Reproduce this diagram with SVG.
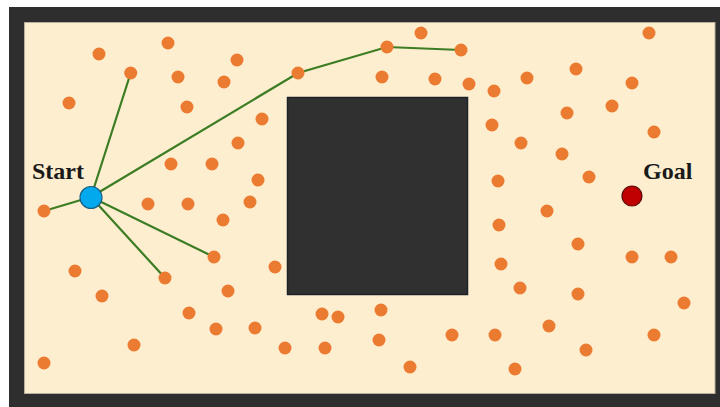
<svg xmlns="http://www.w3.org/2000/svg" width="720" height="407" viewBox="0 0 720 407">
<style>
.dot{fill:#ec7b32}
.edge{stroke:#3c7d24;stroke-width:2.2;fill:none;stroke-linecap:round}
.lbl{font-family:"Liberation Serif","Times New Roman",serif;font-weight:bold;font-size:24px;fill:#1a1a1a}
</style>
<rect x="0" y="0" width="720" height="407" fill="#ffffff"/>
<rect x="9" y="7" width="711" height="400" fill="#2e2e2e"/>
<rect x="24.5" y="22.5" width="690.5" height="371" fill="#fdeecf" stroke="#b8b09a" stroke-width="1"/>
<rect id="obstacle" x="287.5" y="97.5" width="180" height="197" fill="#303030" stroke="#1c2228" stroke-width="1.5"/>
<g id="connectors">
<line class="edge" x1="91" y1="197" x2="130.7" y2="73"/>
<line class="edge" x1="91" y1="197" x2="44" y2="211"/>
<line class="edge" x1="91" y1="197" x2="214" y2="257"/>
<line class="edge" x1="91" y1="197" x2="165" y2="278"/>
<polyline class="edge" points="91,197 298,73 387,47 461,50"/>
</g>
<g id="samples">
<circle class="dot" cx="99" cy="54" r="6.5"/>
<circle class="dot" cx="168" cy="43" r="6.5"/>
<circle class="dot" cx="130.7" cy="73" r="6.5"/>
<circle class="dot" cx="178" cy="77" r="6.5"/>
<circle class="dot" cx="224" cy="82" r="6.5"/>
<circle class="dot" cx="237" cy="60" r="6.5"/>
<circle class="dot" cx="69" cy="103" r="6.5"/>
<circle class="dot" cx="187" cy="107" r="6.5"/>
<circle class="dot" cx="238" cy="143" r="6.5"/>
<circle class="dot" cx="171" cy="164" r="6.5"/>
<circle class="dot" cx="212" cy="164" r="6.5"/>
<circle class="dot" cx="148" cy="204" r="6.5"/>
<circle class="dot" cx="188" cy="204" r="6.5"/>
<circle class="dot" cx="421" cy="33" r="6.5"/>
<circle class="dot" cx="387" cy="47" r="6.5"/>
<circle class="dot" cx="461" cy="50" r="6.5"/>
<circle class="dot" cx="298" cy="73" r="6.5"/>
<circle class="dot" cx="382" cy="77" r="6.5"/>
<circle class="dot" cx="435" cy="79" r="6.5"/>
<circle class="dot" cx="469" cy="84" r="6.5"/>
<circle class="dot" cx="262" cy="119" r="6.5"/>
<circle class="dot" cx="258" cy="180" r="6.5"/>
<circle class="dot" cx="250" cy="202" r="6.5"/>
<circle class="dot" cx="649" cy="33" r="6.5"/>
<circle class="dot" cx="576" cy="69" r="6.5"/>
<circle class="dot" cx="527" cy="78" r="6.5"/>
<circle class="dot" cx="494" cy="91" r="6.5"/>
<circle class="dot" cx="632" cy="83" r="6.5"/>
<circle class="dot" cx="612" cy="106" r="6.5"/>
<circle class="dot" cx="567" cy="113" r="6.5"/>
<circle class="dot" cx="492" cy="125" r="6.5"/>
<circle class="dot" cx="654" cy="132" r="6.5"/>
<circle class="dot" cx="521" cy="143" r="6.5"/>
<circle class="dot" cx="562" cy="154" r="6.5"/>
<circle class="dot" cx="498" cy="181" r="6.5"/>
<circle class="dot" cx="589" cy="177" r="6.5"/>
<circle class="dot" cx="44" cy="211" r="6.5"/>
<circle class="dot" cx="223" cy="220" r="6.5"/>
<circle class="dot" cx="214" cy="257" r="6.5"/>
<circle class="dot" cx="165" cy="278" r="6.5"/>
<circle class="dot" cx="75" cy="271" r="6.5"/>
<circle class="dot" cx="102" cy="296" r="6.5"/>
<circle class="dot" cx="228" cy="291" r="6.5"/>
<circle class="dot" cx="189" cy="313" r="6.5"/>
<circle class="dot" cx="216" cy="329" r="6.5"/>
<circle class="dot" cx="134" cy="345" r="6.5"/>
<circle class="dot" cx="44" cy="363" r="6.5"/>
<circle class="dot" cx="275" cy="267" r="6.5"/>
<circle class="dot" cx="322" cy="314" r="6.5"/>
<circle class="dot" cx="338" cy="317" r="6.5"/>
<circle class="dot" cx="381" cy="310" r="6.5"/>
<circle class="dot" cx="255" cy="328" r="6.5"/>
<circle class="dot" cx="285" cy="348" r="6.5"/>
<circle class="dot" cx="325" cy="348" r="6.5"/>
<circle class="dot" cx="379" cy="340" r="6.5"/>
<circle class="dot" cx="452" cy="335" r="6.5"/>
<circle class="dot" cx="410" cy="367" r="6.5"/>
<circle class="dot" cx="547" cy="211" r="6.5"/>
<circle class="dot" cx="499" cy="225" r="6.5"/>
<circle class="dot" cx="578" cy="244" r="6.5"/>
<circle class="dot" cx="632" cy="257" r="6.5"/>
<circle class="dot" cx="671" cy="257" r="6.5"/>
<circle class="dot" cx="501" cy="264" r="6.5"/>
<circle class="dot" cx="520" cy="288" r="6.5"/>
<circle class="dot" cx="578" cy="294" r="6.5"/>
<circle class="dot" cx="684" cy="303" r="6.5"/>
<circle class="dot" cx="549" cy="326" r="6.5"/>
<circle class="dot" cx="495" cy="335" r="6.5"/>
<circle class="dot" cx="654" cy="335" r="6.5"/>
<circle class="dot" cx="586" cy="350" r="6.5"/>
<circle class="dot" cx="515" cy="369" r="6.5"/>
</g>
<g id="start">
<circle cx="91" cy="197.5" r="11" fill="#02a9ec" stroke="#1d5f86" stroke-width="1.2"/>
<text class="lbl" x="32" y="179">Start</text>
</g>
<g id="goal">
<circle cx="632" cy="196" r="10" fill="#c00000" stroke="#5a0a0a" stroke-width="1.2"/>
<text class="lbl" x="643" y="179">Goal</text>
</g>
</svg>
